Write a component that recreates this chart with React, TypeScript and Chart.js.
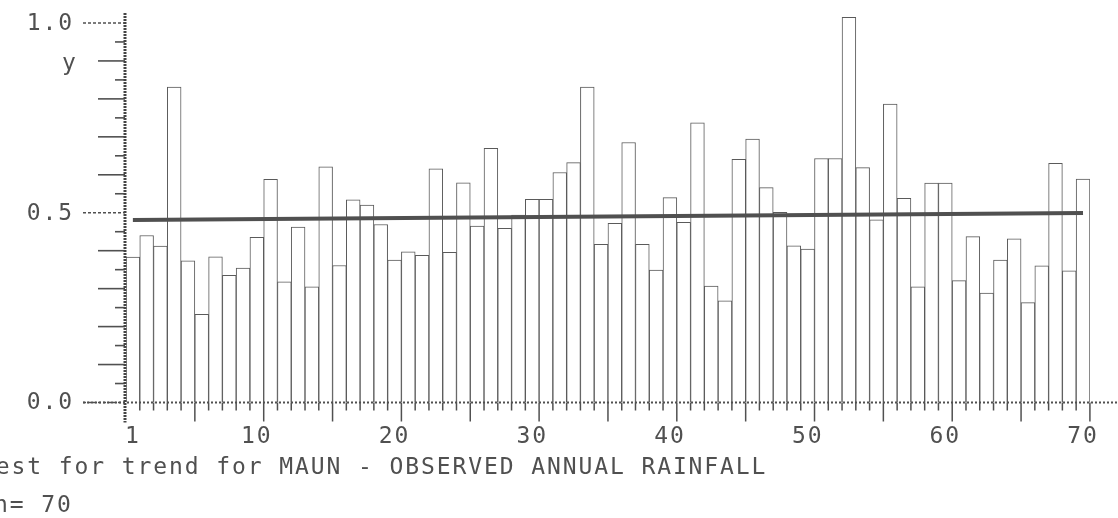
import React, { useEffect, useRef } from "react";
import { Chart, registerables } from "chart.js";

Chart.register(...registerables);

// Annual rainfall index for Maun, one bar per year of record (n = 70)
const RAINFALL = [
  0.383, 0.44, 0.412, 0.831, 0.373, 0.232, 0.384, 0.335, 0.354, 0.435,
  0.588, 0.318, 0.462, 0.305, 0.621, 0.361, 0.534, 0.52, 0.469, 0.375,
  0.397, 0.388, 0.616, 0.396, 0.579, 0.465, 0.67, 0.459, 0.494, 0.535,
  0.535, 0.606, 0.632, 0.831, 0.417, 0.472, 0.685, 0.417, 0.349, 0.54,
  0.475, 0.737, 0.307, 0.268, 0.641, 0.694, 0.566, 0.501, 0.413, 0.404,
  0.643, 0.643, 1.015, 0.619, 0.481, 0.786, 0.538, 0.305, 0.578, 0.578,
  0.321, 0.437, 0.288, 0.375, 0.431, 0.263, 0.36, 0.63, 0.347, 0.589,
];

// Fitted linear trend, evaluated at the first and last year
const TREND_X = [1, 70];
const TREND_Y = [0.481, 0.499];

const X_TICKS = [1, 10, 20, 30, 40, 50, 60, 70];
const Y_LABELS = [0, 0.5, 1.0];
const Y_AXIS_NAME = "y";

const TITLE = "Test for trend for MAUN - OBSERVED ANNUAL RAINFALL";
const COUNT_LINE = "n= 70";

const FONT = "'DejaVu Sans Mono', 'Liberation Mono', monospace";
const INK = "#505050";

const decorPlugin = {
  id: "decor",
  beforeDraw(chart: any) {
    const ctx = chart.ctx;
    ctx.save();
    ctx.fillStyle = "#fff";
    ctx.fillRect(0, 0, chart.width, chart.height);
    ctx.restore();
    ctx.letterSpacing = "1.9px";
  },
  afterDraw(chart: any) {
    const ctx = chart.ctx as CanvasRenderingContext2D;
    const xs = chart.scales.x;
    const ys = chart.scales.y;
    const axisX = xs.left - 1;
    const y0 = ys.getPixelForValue(0);

    ctx.save();
    ctx.strokeStyle = INK;

    // baseline (dotted) across the full width
    ctx.lineWidth = 2;
    ctx.setLineDash([2, 2]);
    ctx.beginPath();
    ctx.moveTo(83, y0);
    ctx.lineTo(chart.width, y0);
    ctx.stroke();

    // y-axis tick marks every 0.05, longer every 0.1, longest at labelled values
    for (let k = 0; k <= 20; k++) {
      const v = k / 20;
      const py = ys.getPixelForValue(v);
      let from = 115;
      if (k % 10 === 0) from = 83;
      else if (k % 2 === 0) from = 98;
      ctx.lineWidth = 1.6;
      ctx.setLineDash(k % 10 === 0 ? [3, 2] : []);
      ctx.beginPath();
      ctx.moveTo(from, py);
      ctx.lineTo(axisX, py);
      ctx.stroke();
    }

    // tick marks below the baseline at every bar boundary
    ctx.setLineDash([]);
    ctx.lineWidth = 1.5;
    for (let i = 1; i <= RAINFALL.length; i++) {
      const px = xs.getPixelForValue(i + 0.5);
      const len = i % 5 === 0 ? 19 : 8;
      ctx.beginPath();
      ctx.moveTo(px, y0);
      ctx.lineTo(px, y0 + len);
      ctx.stroke();
    }

    // vertical axis
    ctx.strokeStyle = "#444";
    ctx.lineWidth = 3;
    ctx.setLineDash([2, 1]);
    ctx.beginPath();
    ctx.moveTo(axisX, 13);
    ctx.lineTo(axisX, y0 + 20);
    ctx.stroke();

    // y labels
    ctx.setLineDash([]);
    ctx.fillStyle = INK;
    ctx.font = `23px ${FONT}`;
    ctx.textAlign = "right";
    ctx.textBaseline = "middle";
    for (const v of Y_LABELS) {
      ctx.fillText(v.toFixed(1), 74, ys.getPixelForValue(v) + 1);
    }
    ctx.textAlign = "left";
    ctx.textBaseline = "alphabetic";
    ctx.fillText(Y_AXIS_NAME, 62, 70);

    // caption lines
    ctx.fillText(TITLE, -20, 474);
    ctx.fillText(COUNT_LINE, -6, 512);
    ctx.restore();
  },
};

export default function App() {
  const canvasRef = useRef<HTMLCanvasElement | null>(null);

  useEffect(() => {
    const canvas = canvasRef.current;
    if (!canvas) return;

    const chart = new Chart(canvas, {
      type: "bar",
      data: {
        datasets: [
          {
            type: "line",
            data: TREND_X.map((x, i) => ({ x, y: TREND_Y[i] })),
            borderColor: INK,
            borderWidth: 4,
            pointRadius: 0,
            order: 0,
          } as any,
          {
            type: "bar",
            data: RAINFALL.map((v, i) => ({ x: i + 1, y: v })),
            backgroundColor: "#fff",
            borderColor: "#5a5a5a",
            borderWidth: 1,
            borderSkipped: "bottom",
            barPercentage: 1,
            categoryPercentage: 1,
            order: 1,
          } as any,
        ],
      },
      options: {
        animation: false,
        responsive: false,
        devicePixelRatio: 1,
        layout: { padding: { left: 126, right: 17, top: 4, bottom: 0 } },
        plugins: {
          legend: { display: false },
          tooltip: { enabled: false },
          title: { display: false },
        },
        scales: {
          x: {
            type: "linear",
            min: 0.5,
            max: 70.5,
            offset: false,
            grid: { display: false, drawTicks: false, offset: false },
            border: { display: false },
            ticks: {
              autoSkip: false,
              maxRotation: 0,
              padding: 21,
              color: INK,
              font: { family: FONT, size: 23 },
            },
            afterBuildTicks: (scale: any) => {
              scale.ticks = X_TICKS.map((v) => ({ value: v }));
            },
            afterFit: (scale: any) => {
              scale.height = 115.5;
            },
          },
          y: {
            type: "linear",
            min: 0,
            max: 1.05,
            display: false,
          },
        },
      },
      plugins: [decorPlugin],
    });

    return () => chart.destroy();
  }, []);

  return (
    <div
      style={{
        position: "absolute",
        left: 0,
        top: 0,
        width: 1118,
        height: 518,
        background: "#fff",
      }}
    >
      <canvas ref={canvasRef} width={1118} height={518} style={{ display: "block" }} />
    </div>
  );
}
